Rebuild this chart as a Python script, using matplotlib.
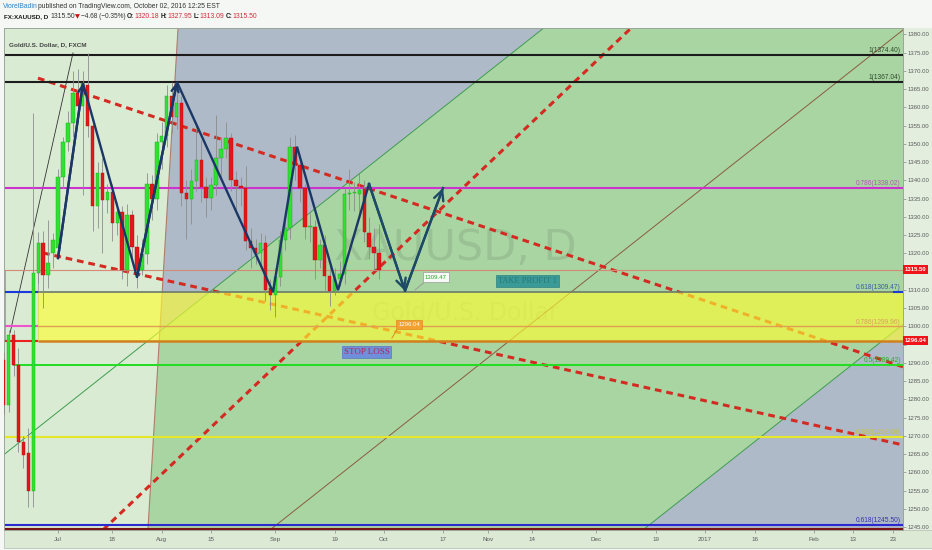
import matplotlib
matplotlib.use('Agg')
import matplotlib.pyplot as plt
from matplotlib.patches import Rectangle, Polygon

# ---------------- data ----------------
bar_index = list(range(-11, 66))          # daily bars, 0 = 2016-07-01
opens = [1290.8, 1278.4, 1297.6, 1289.5, 1268.3, 1265.3, 1255.0, 1314.7, 1322.8, 1314.1, 1320.0,
         1321.4, 1341.0, 1350.5, 1355.7, 1364.0, 1360.3, 1366.0, 1354.9, 1333.0, 1342.0, 1334.6,
         1336.8, 1328.3, 1331.4, 1315.5, 1330.5, 1321.8, 1315.5, 1319.8, 1339.0, 1334.9, 1350.5,
         1352.1, 1363.1, 1357.3, 1361.2, 1336.5, 1334.9, 1339.8, 1345.6, 1338.2, 1335.2, 1338.7,
         1346.1, 1348.6, 1351.6, 1340.0, 1338.4, 1337.8, 1323.4, 1321.4, 1320.0, 1322.8, 1310.5,
         1308.6, 1313.5, 1323.6, 1326.9, 1349.1, 1344.2, 1337.9, 1327.2, 1327.2, 1318.2, 1322.3,
         1313.8, 1309.7, 1313.0, 1314.3, 1336.2, 1336.4, 1336.2, 1337.6, 1325.6, 1321.7, 1320.18]
closes = [1278.4, 1297.6, 1289.5, 1268.3, 1264.8, 1255.0, 1314.6, 1322.8, 1314.1, 1317.4, 1323.6,
          1340.9, 1350.5, 1355.7, 1363.9, 1360.3, 1366.6, 1354.9, 1333.0, 1342.0, 1334.6, 1336.8,
          1328.3, 1331.4, 1315.5, 1330.5, 1321.8, 1315.5, 1319.8, 1339.0, 1334.9, 1350.5, 1352.1,
          1363.1, 1357.3, 1361.2, 1336.5, 1334.9, 1339.8, 1345.6, 1338.2, 1335.2, 1338.7, 1346.1,
          1348.6, 1351.6, 1340.1, 1338.4, 1337.8, 1323.4, 1321.4, 1320.0, 1322.8, 1310.0, 1308.6,
          1313.5, 1323.6, 1326.9, 1349.1, 1344.2, 1337.9, 1327.2, 1327.5, 1318.2, 1322.3, 1313.8,
          1309.7, 1313.0, 1314.3, 1336.2, 1336.6, 1336.4, 1337.4, 1325.8, 1321.7, 1320.1, 1315.50]
highs = [1293.0, 1299.0, 1299.0, 1294.0, 1270.0, 1272.0, 1358.5, 1325.8, 1326.0, 1329.0, 1325.5,
         1343.0, 1352.0, 1359.0, 1370.0, 1370.5, 1370.0, 1374.9, 1357.0, 1345.0, 1346.0, 1339.0,
         1339.0, 1334.0, 1333.0, 1333.5, 1332.0, 1325.0, 1324.0, 1342.0, 1341.5, 1353.0, 1356.0,
         1366.0, 1367.0, 1364.0, 1363.0, 1340.0, 1343.0, 1356.0, 1351.0, 1341.0, 1341.0, 1358.0,
         1352.0, 1356.0, 1353.0, 1342.5, 1341.0, 1344.0, 1327.0, 1324.0, 1325.5, 1325.0, 1313.0,
         1316.0, 1326.0, 1330.0, 1352.0, 1352.5, 1347.0, 1339.0, 1331.0, 1329.0, 1324.0, 1325.0,
         1317.0, 1316.0, 1318.0, 1338.0, 1343.0, 1339.5, 1342.0, 1340.0, 1330.0, 1327.0, 1327.95]
lows = [1276.0, 1276.5, 1286.5, 1265.5, 1261.2, 1250.5, 1250.5, 1312.0, 1305.0, 1310.5, 1316.0,
        1318.5, 1338.0, 1348.0, 1352.0, 1356.0, 1336.0, 1352.0, 1326.0, 1327.0, 1320.0, 1331.0,
        1323.5, 1325.0, 1313.0, 1311.0, 1318.0, 1310.5, 1314.0, 1317.0, 1329.0, 1332.0, 1343.0,
        1349.0, 1353.0, 1354.0, 1333.0, 1324.0, 1328.0, 1337.0, 1334.0, 1330.0, 1332.0, 1336.0,
        1341.0, 1346.0, 1337.0, 1332.0, 1333.0, 1321.0, 1316.0, 1317.0, 1316.0, 1307.0, 1304.5,
        1302.6, 1311.0, 1321.0, 1324.0, 1340.0, 1334.0, 1324.0, 1323.0, 1313.0, 1316.0, 1310.0,
        1305.5, 1308.5, 1311.0, 1311.5, 1332.0, 1331.5, 1331.0, 1323.0, 1318.5, 1315.5, 1313.09]

x_tick_pos = [0, 11, 21, 31, 44, 56, 66, 78, 87, 96, 109, 121, 131, 141, 153, 161, 169]
x_tick_lab = ['Jul', '18', 'Aug', '15', 'Sep', '19', 'Oct', '17', 'Nov', '14', 'Dec', '19',
              '2017', '16', 'Feb', '13', '23']
y_ticks = list(range(1245, 1381, 5))
y_hidden = [1295, 1315]                   # covered by the price tags

# drawing anchors (bar index, price)
zigzag_x = [0.0, 5.06, 15.99, 24.09, 43.52, 48.38, 56.68, 62.96, 70.24, 77.94]
zigzag_y = [1318.7, 1366.6, 1313.5, 1366.9, 1309.4, 1349.2, 1309.9, 1339.0, 1309.7, 1337.9]
upper_dash = [(-4.05, 1368.0), (171.05, 1288.9)]
lower_dash = [(-3.04, 1320.1), (171.05, 1267.5)]
rising_dash = [(9.1, 1244.2), (116.0, 1381.7)]
thin_black = [(-9.7, 1298.2), (3.04, 1374.9)]
boundary = [(18.2, 1244.2), (24.3, 1381.7)]
chan_upper = [(31.17, 1309.9), (98.3, 1381.7)]
chan_lower = [(118.4, 1244.2), (171.05, 1300.5)]
chan_mid = [(42.9, 1244.2), (171.05, 1381.2)]

zone_low, zone_high, zone_start = 1296.04, 1309.47, -4.05
fib_levels = [1374.40, 1367.04, 1338.02, 1309.47, 1299.96, 1289.42, 1269.60, 1245.50, 1244.40]
fib_labels = ['1(1374.40)', '1(1367.04)', '0.786(1338.02)', '0.618(1309.47)', '0.786(1299.96)',
              '0.5(1289.42)', '0.382(1269.60)', '0.618(1245.50)', '']
fib_colors = ['#1c1c1c', '#1c1c1c', '#cc33cc', '#6b7a6b', '#e0a050', '#22dd22', '#e6e62a',
              '#2a2ad0', '#7a1414']
fib_text_colors = ['#2e4a2e', '#2e4a2e', '#b455b4', '#3a5aa8', '#d8a060', '#2faa2f', '#c9c23a',
                   '#3535a8', '#333333']
last_price = 1315.50
stop_price = 1296.04

# ---------------- figure ----------------
W, H = 932, 550
fig = plt.figure(figsize=(W / 100, H / 100), dpi=100)
fig.patch.set_facecolor('#f4f7f4')
L, R, T, B = 4, 903, 28, 530
ax = fig.add_axes([L / W, (H - B) / H, (R - L) / W, (B - T) / H])
XMIN, XMAX = -10.93, 171.05
YMIN, YMAX = 1244.19, 1381.73
ax.set_xlim(XMIN, XMAX)
ax.set_ylim(YMIN, YMAX)
ax.set_facecolor('#aebac8')

# strips
fig.patches.append(Rectangle((R / W, (H - B) / H), (W - R) / W, (B - T) / H,
                             transform=fig.transFigure, fc='#e3eedf', ec='none', zorder=-1))
fig.patches.append(Rectangle((L / W, (H - 548) / H), (W - L) / W, 18 / H,
                             transform=fig.transFigure, fc='#dbe9d5', ec='#b9c4b9', lw=0.6, zorder=-1))


def line_at(pts, x):
    (x0, y0), (x1, y1) = pts
    return y0 + (y1 - y0) * (x - x0) / (x1 - x0)


def x_at(pts, y):
    (x0, y0), (x1, y1) = pts
    return x0 + (x1 - x0) * (y - y0) / (y1 - y0)


ex0, ex1 = -40, 220
green_poly = [(ex0, line_at(chan_upper, ex0)), (ex1, line_at(chan_upper, ex1)),
              (ex1, line_at(chan_lower, ex1)), (ex0, line_at(chan_lower, ex0))]
ax.add_patch(Polygon(green_poly, closed=True, fc='#a9d5a2', ec='none', zorder=0.1))
left_poly = [(ex0, YMIN - 5), (ex0, YMAX + 5), (x_at(boundary, YMAX + 5), YMAX + 5),
             (x_at(boundary, YMIN - 5), YMIN - 5)]
ax.add_patch(Polygon(left_poly, closed=True, fc='#d9ebd3', ec='none', zorder=0.2))

for pts, col in [(chan_upper, '#3f9c4f'), (chan_lower, '#3f9c4f'), (chan_mid, '#8a5c40')]:
    ax.plot([ex0, ex1], [line_at(pts, ex0), line_at(pts, ex1)], color=col, lw=0.7, zorder=0.5)
ax.plot([x_at(boundary, YMIN - 5), x_at(boundary, YMAX + 5)], [YMIN - 5, YMAX + 5],
        color='#b47a6a', lw=0.8, zorder=0.5)
ax.plot(*zip(*thin_black), color='#333333', lw=0.6, zorder=0.6)

# outline box left of the zone
ax.add_patch(Rectangle((XMIN + 0.2, zone_low), zone_start - XMIN - 0.2, last_price - zone_low,
                       fc='none', ec='#9c9c9c', lw=0.6, zorder=0.8))

# watermark
ax.text(80.4, 1321.5, 'XAUUSD, D', fontsize=31, color='#000000', alpha=0.09,
        ha='center', va='center', family='DejaVu Sans', zorder=0.7)
ax.text(82.4, 1303.9, 'Gold/U.S. Dollar', fontsize=17, color='#000000', alpha=0.08,
        ha='center', va='center', family='DejaVu Sans', zorder=0.7)

# dashed trend lines
for pts in (upper_dash, lower_dash, rising_dash):
    ax.plot(*zip(*pts), color='#d42a22', lw=2.2, ls=(0, (2.2, 1.6)), zorder=1, solid_capstyle='butt')

# yellow zone
ax.add_patch(Rectangle((zone_start, zone_low), XMAX + 5 - zone_start, zone_high - zone_low,
                       fc='#ffff30', alpha=0.64, ec='none', zorder=1.5))

# horizontal levels
for lev, col in zip(fib_levels, fib_colors):
    if lev in (zone_high, 1299.96, zone_low):
        continue
    x0 = -9.1 if lev == 1289.42 else XMIN
    ax.hlines(lev, x0, XMAX, colors=col, lw=1.5 if lev not in (1289.42,) else 1.4, zorder=2)
ax.hlines(zone_high, XMIN, zone_start, colors='#1a3adb', lw=1.5, zorder=2)
ax.hlines(zone_high, zone_start, XMAX, colors='#6b7a6b', lw=1.2, zorder=2)
ax.hlines(zone_high, 169.0, XMAX, colors='#1a3adb', lw=1.5, zorder=2)
ax.hlines(1300.0, XMIN, zone_start, colors='#ee55cc', lw=1.5, zorder=2)
ax.hlines(1299.96, zone_start, XMAX, colors='#e0a050', lw=1.0, zorder=2)
ax.hlines(zone_low, XMIN, zone_start, colors='#ee2020', lw=1.5, zorder=2)
ax.hlines(zone_low, zone_start, XMAX, colors='#d0801e', lw=1.8, zorder=2)
ax.hlines(last_price, XMIN, XMAX, colors='#d58a78', lw=0.8, zorder=2)

for lev, lab, tc in zip(fib_levels, fib_labels, fib_text_colors):
    if lab:
        ax.text(170.6, lev + 0.25, lab, fontsize=4.8, color=tc, ha='right', va='bottom',
                family='Liberation Sans', zorder=2.5)

# candles
for i, o, c, h, l in zip(bar_index, opens, closes, highs, lows):
    up = c >= o
    col = '#2fe22f' if up else '#e3161a'
    ec = '#1fa51f' if up else '#b01010'
    ax.vlines(i, l, h, colors='#8c8c8c', lw=0.6, zorder=3)
    bot = min(o, c)
    hgt = max(abs(c - o), 0.35)
    ax.bar(i, hgt, bottom=bot, width=0.7, color=col, edgecolor=ec, lw=0.3, zorder=3.2)

# zigzag
navy = '#1a3766'
ax.plot(zigzag_x[:8], zigzag_y[:8], color=navy, lw=1.7, zorder=4, solid_joinstyle='miter')
ax.plot(zigzag_x[7:], zigzag_y[7:], color='#1d4a66', lw=1.7, zorder=4)
for k in (1, 3):
    ax.annotate('', xy=(zigzag_x[k], zigzag_y[k]), xytext=(zigzag_x[k - 1], zigzag_y[k - 1]),
                arrowprops=dict(arrowstyle='->,head_length=0.5,head_width=0.25', color=navy, lw=1.7,
                                shrinkA=0, shrinkB=0), zorder=4)
for k in (8, 9):
    ax.annotate('', xy=(zigzag_x[k], zigzag_y[k]), xytext=(zigzag_x[k - 1], zigzag_y[k - 1]),
                arrowprops=dict(arrowstyle='->,head_length=0.7,head_width=0.35', color='#1d4a66',
                                lw=1.7, shrinkA=0, shrinkB=0), zorder=4)

# callouts
ax.plot([72.3, 74.3], [1310.0, 1312.2], color='#9a9a9a', lw=0.7, zorder=4.5)
ax.text(76.5, 1313.5, '1309.47', fontsize=4.3, color='#22aa22', ha='center', va='center',
        family='Liberation Sans', zorder=5,
        bbox=dict(boxstyle='square,pad=0.35', fc='#f6fbf6', ec='#9a9a9a', lw=0.5))
ax.plot([67.6, 68.6], [1296.8, 1299.0], color='#e08a20', lw=0.7, zorder=4.5)
ax.text(71.05, 1300.5, '1296.04', fontsize=4.3, color='white', ha='center', va='center',
        family='Liberation Sans', zorder=5,
        bbox=dict(boxstyle='square,pad=0.35', fc='#f2a030', ec='#e08a20', lw=0.5))
ax.text(62.45, 1293.0, 'STOP LOSS', fontsize=6.5, color='#b3245a', ha='center', va='center',
        family='Liberation Serif', zorder=5,
        bbox=dict(boxstyle='square,pad=0.22', fc='#6f8fda', ec='#5b77c0', lw=0.5))
ax.text(95.1, 1312.5, 'TAKE PROFIT 1', fontsize=6.0, color='#237a76', ha='center', va='center',
        family='Liberation Serif', zorder=5,
        bbox=dict(boxstyle='square,pad=0.25', fc='#3a9a98', ec='#2f8280', lw=0.5))

ax.text(-9.9, 1377.2, 'Gold/U.S. Dollar, D, FXCM', fontsize=4.6, color='#444444', ha='left',
        va='center', family='Liberation Sans', fontweight='bold', zorder=6)

# axes
ax.yaxis.tick_right()
ax.set_yticks(y_ticks)
ax.set_yticklabels(['' if v in y_hidden else f'{v:.2f}' for v in y_ticks], fontsize=4.3,
                   color='#5a5a5a', family='Liberation Sans')
ax.tick_params(axis='y', direction='out', length=2, width=0.5, color='#888888', pad=1.5)
ax.set_xticks(x_tick_pos)
ax.set_xticklabels(x_tick_lab, fontsize=4.5, color='#5a5a5a', family='Liberation Sans')
ax.tick_params(axis='x', direction='out', length=2, width=0.5, color='#888888', pad=3)
for s in ax.spines.values():
    s.set_color('#9aa59a')
    s.set_linewidth(0.7)

# price tags on axis
for p in (last_price, stop_price):
    ax.text(1.0015, (p - YMIN) / (YMAX - YMIN), f'{p:.2f}', transform=ax.transAxes,
            fontsize=4.3, color='white', ha='left', va='center', family='Liberation Sans',
            fontweight='bold', zorder=7, clip_on=False,
            bbox=dict(boxstyle='square,pad=0.3', fc='#f0141a', ec='none'))

# header
def fx(px):
    return px / W

def fy(py):
    return 1 - py / H

hdr = dict(fontsize=4.9, family='Liberation Sans', va='center')
fig.text(fx(3), fy(6.5), 'ViorelBadin', color='#2c82c9', **hdr)
fig.text(fx(37.5), fy(6.5), 'published on TradingView.com, October 02, 2016 12:25 EST', color='#333333', **hdr)
pieces = [(4, 'FX:XAUUSD, D', '#1a1a1a', 'bold', 4.5), (50, '1315.50', '#333333', 'normal', 4.9),
          (74.5, '\u25bc', '#cc1111', 'normal', 4.6), (81, '\u22124.68 (\u22120.35%)', '#333333', 'normal', 4.7),
          (127, 'O:', '#1a1a1a', 'bold', 4.7), (134, '1320.18', '#d42a3a', 'normal', 4.9),
          (161, 'H:', '#1a1a1a', 'bold', 4.7), (167, '1327.95', '#d42a3a', 'normal', 4.9),
          (194, 'L:', '#1a1a1a', 'bold', 4.7), (199, '1313.09', '#d42a3a', 'normal', 4.9),
          (226, 'C:', '#1a1a1a', 'bold', 4.7), (232, '1315.50', '#d42a3a', 'normal', 4.9)]
for px, s, c, w, fs in pieces:
    fam = 'DejaVu Sans' if s == '\u25bc' else 'Liberation Sans'
    fig.text(fx(px), fy(17), s, color=c, fontweight=w, fontsize=fs, family=fam, va='center')

fig.savefig('out.png', dpi=100, facecolor=fig.get_facecolor())
